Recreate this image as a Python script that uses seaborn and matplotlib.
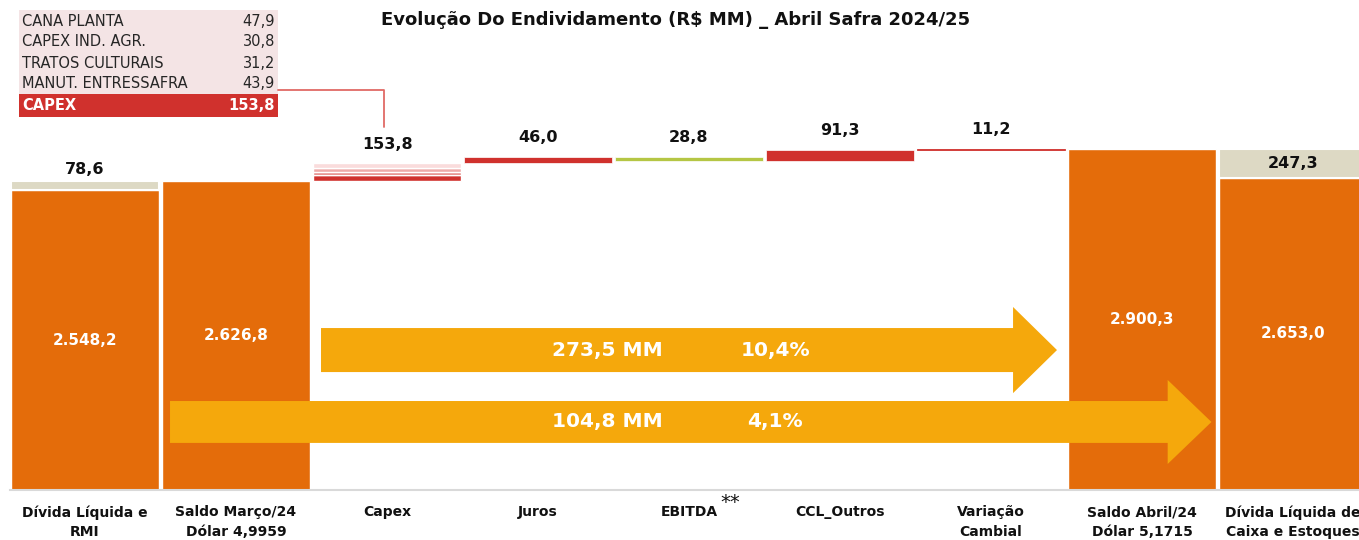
import numpy as np
import pandas as pd
import matplotlib
matplotlib.use("Agg")
import matplotlib.pyplot as plt
import seaborn as sns
from matplotlib.patches import Polygon, Rectangle
from matplotlib.lines import Line2D
from matplotlib.transforms import blended_transform_factory

# Data

categories = ["Dívida Líquida e\nRMI", "Saldo Março/24\nDólar 4,9959", "Capex", "Juros", "EBITDA",
              "CCL_Outros", "Variação\nCambial", "Saldo Abril/24\nDólar 5,1715",
              "Dívida Líquida de\nCaixa e Estoques"]
totals = [2548.2, 2626.8, 0, 0, 0, 0, 0, 2900.3, 2653.0]

# grey adjustment stacked on top of the first and last totals
grey_index = [0, 8]
grey_values = [78.6, 247.3]

capex_items = ["CANA PLANTA", "CAPEX IND. AGR.", "TRATOS CULTURAIS", "MANUT. ENTRESSAFRA"]
capex_values = [47.9, 30.8, 31.2, 43.9]
capex_total = 153.8

step_index = [3, 4, 5, 6]
step_values = [46.0, -28.8, 91.3, 11.2]

arrow_amounts = ["273,5 MM", "104,8 MM"]
arrow_pcts = ["10,4%", "4,1%"]

# Colors
ORANGE = "#E46C0A"
GREY = "#DDD9C4"
RED = "#D0312D"
GREEN = "#B5C644"
ARROW = "#F5A80C"
PINK_BG = "#F4E4E5"
capex_colors = [RED, "#E37D79", "#EEAAA8", "#FADCDC"]

W, H = 1359, 540


def fmt(v):
    s = f"{abs(v):,.1f}"
    return s.replace(",", "X").replace(".", ",").replace("X", ".")


sns.set_style("white")
plt.rcParams["font.family"] = ["DejaVu Sans"]

fig = plt.figure(figsize=(W / 100, H / 100), dpi=100)
ax = fig.add_axes([9.5 / W, 50 / H, 1.0, 490 / H])

df = pd.DataFrame({"cat": categories, "value": totals})
sns.barplot(data=df, x="cat", y="value", order=categories, color=ORANGE,
            saturation=1, width=0.98, ax=ax, zorder=2)

# grey segments
for i, g in zip(grey_index, grey_values):
    ax.bar(i, g, bottom=totals[i], width=0.98, color=GREY, edgecolor="white",
           linewidth=1.5, zorder=2)

# capex stacked stripes
level = totals[1]
bottom = level
for v, c in zip(capex_values, capex_colors):
    ax.bar(2, v, bottom=bottom, width=0.98, color=c, edgecolor="white",
           linewidth=1.0, zorder=2)
    bottom += v
ax.annotate(fmt(capex_total), (2, level + capex_total), xytext=(0, 13),
            textcoords="offset points", ha="center", va="center",
            fontsize=11.5, fontweight="bold", color="#111111")
level += capex_total

# floating steps
for i, v in zip(step_index, step_values):
    b = level if v > 0 else level + v
    c = GREEN if v < 0 else RED
    if abs(v) > 20:
        ec, lw = "white", 0.5
    else:
        ec, lw = c, 0.6
    ax.bar(i, abs(v), bottom=b, width=0.98, color=c, edgecolor=ec,
           linewidth=lw, zorder=2)
    top = max(level, level + v)
    ax.annotate(fmt(v), (i, top), xytext=(0, 14), textcoords="offset points",
                ha="center", va="center", fontsize=11.5, fontweight="bold",
                color="#111111")
    level += v

# labels inside totals
for i, t in enumerate(totals):
    if t > 0:
        ax.text(i, t / 2, fmt(t), ha="center", va="center", color="white",
                fontsize=11, fontweight="bold", zorder=4)

ax.annotate(fmt(grey_values[0]), (0, totals[0] + grey_values[0]), xytext=(0, 8),
            textcoords="offset points", ha="center", va="center",
            fontsize=11.5, fontweight="bold", color="#111111")
ax.text(8, totals[8] + grey_values[1] / 2, fmt(grey_values[1]), ha="center",
        va="center", fontsize=11.5, fontweight="bold", color="#111111", zorder=4)


# big arrows
def arrow_poly(x0, xb, xt, yc, bh, hh):
    return [(x0, yc - bh), (xb, yc - bh), (xb, yc - hh), (xt, yc), (xb, yc + hh),
            (xb, yc + bh), (x0, yc + bh)]


arrow_geo = [(1.563, 6.146, 6.437, 1189, 187, 366),
             (0.563, 7.17, 7.46, 578, 178, 357)]
for geo, amt, pct in zip(arrow_geo, arrow_amounts, arrow_pcts):
    ax.add_patch(Polygon(arrow_poly(*geo), closed=True, facecolor=ARROW,
                         edgecolor="none", zorder=5))
    ax.text(3.46, geo[3], amt, ha="center", va="center", color="white",
            fontsize=14.5, fontweight="bold", zorder=6)
    ax.text(4.57, geo[3], pct, ha="center", va="center", color="white",
            fontsize=14.5, fontweight="bold", zorder=6)

# axes styling
ax.set_xlim(-0.5, 8.5)
ax.set_ylim(0, 4163)
ax.set_xlabel("")
ax.set_ylabel("")
ax.set_yticks([])
for s in ["top", "right", "left"]:
    ax.spines[s].set_visible(False)
ax.spines["bottom"].set_color("#D9D9D9")
ax.spines["bottom"].set_linewidth(1.5)
ax.set_xticks(range(len(categories)))
ax.set_xticklabels(categories, fontsize=10, fontweight="bold", color="#111111",
                   linespacing=1.5)
ax.set_xticks(np.arange(-0.5, 9, 1), minor=True)
ax.tick_params(axis="x", which="major", length=0, pad=11)
ax.tick_params(axis="x", which="minor", length=6, width=1.3, color="#D9D9D9",
               direction="out")
trans = blended_transform_factory(ax.transData, ax.transAxes)
ax.text(4.27, -0.025, "**", transform=trans, ha="center", va="center",
        fontsize=14, color="#111111")

# title
fig.text(0.497, 1 - 20 / H, "Evolução Do Endividamento (R$ MM) _ Abril Safra 2024/25",
         ha="center", va="center", fontsize=13, fontweight="bold", color="#111111")


# capex breakdown table
def fx(px):
    return px / W


def fy(py):
    return 1 - py / H


fig.patches.append(Rectangle((fx(19), fy(94)), fx(278) - fx(19), fy(10) - fy(94),
                             transform=fig.transFigure, facecolor=PINK_BG,
                             edgecolor="none"))
fig.patches.append(Rectangle((fx(19), fy(117)), fx(278) - fx(19), fy(94) - fy(117),
                             transform=fig.transFigure, facecolor=RED,
                             edgecolor="none"))
for k, (name, v) in enumerate(zip(capex_items, capex_values)):
    y = fy(21 + 21 * k)
    fig.text(fx(22), y, name, ha="left", va="center", fontsize=10.5, color="#262626")
    fig.text(fx(275), y, fmt(v), ha="right", va="center", fontsize=10.5, color="#262626")
fig.text(fx(22), fy(106), "CAPEX", ha="left", va="center", fontsize=10.5,
         fontweight="bold", color="white")
fig.text(fx(275), fy(106), fmt(capex_total), ha="right", va="center", fontsize=10.5,
         fontweight="bold", color="white")
fig.lines.append(Line2D([fx(278), fx(384), fx(384)], [fy(90), fy(90), fy(127)],
                        transform=fig.transFigure, color="#E06A66", linewidth=1.3))

fig.savefig("out.png", dpi=100)
